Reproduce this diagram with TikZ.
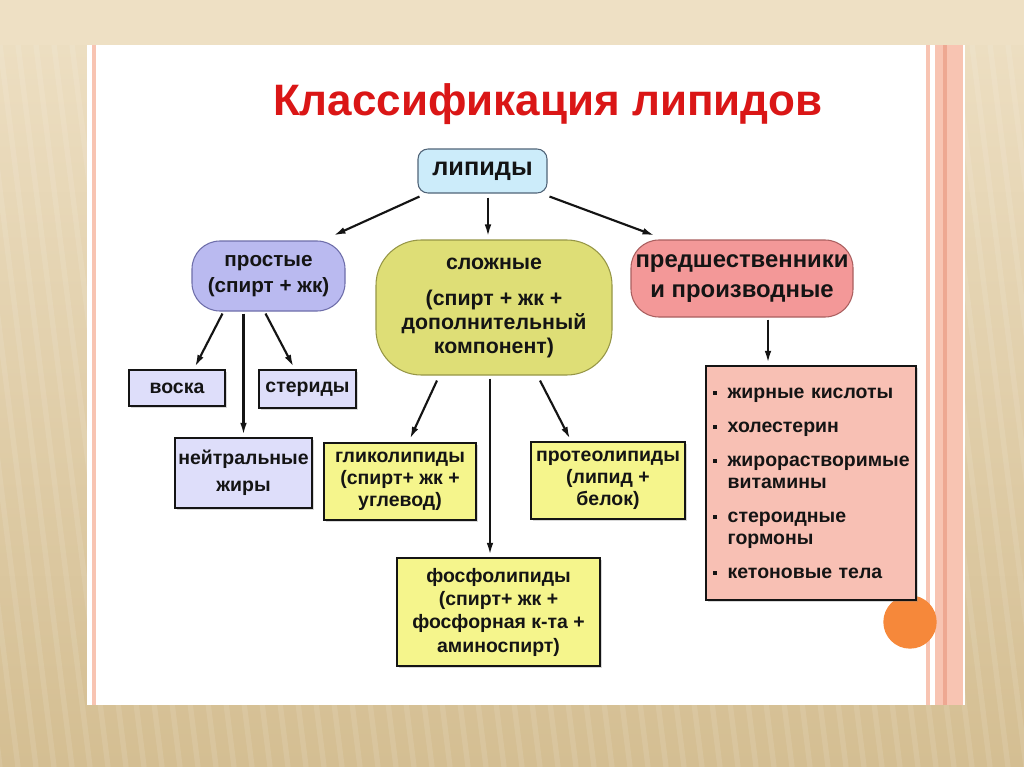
\documentclass[tikz,border=0pt]{standalone}
\usepackage{fontspec}
\setmainfont{Liberation Sans}
\usetikzlibrary{arrows.meta,shadows}
\definecolor{fond}{RGB}{238,224,196}
\definecolor{fondbas}{RGB}{212,190,146}
\definecolor{rose}{RGB}{248,196,178}
\definecolor{rosefonce}{RGB}{238,168,146}
\definecolor{titre}{RGB}{218,22,22}
\definecolor{cyan}{RGB}{204,236,250}
\definecolor{cyanbord}{RGB}{80,100,120}
\definecolor{mauve}{RGB}{186,186,240}
\definecolor{mauvebord}{RGB}{110,110,170}
\definecolor{mauveclair}{RGB}{222,222,250}
\definecolor{olive}{RGB}{222,222,118}
\definecolor{olivebord}{RGB}{150,150,70}
\definecolor{jaune}{RGB}{245,245,140}
\definecolor{saumon}{RGB}{243,152,152}
\definecolor{saumonbord}{RGB}{170,95,95}
\definecolor{saumonclair}{RGB}{248,192,180}
\definecolor{orange}{RGB}{246,136,58}
\definecolor{encre}{RGB}{20,20,20}
\newcommand{\puce}{\makebox[11pt][l]{\raisebox{0.35ex}{\rule{3pt}{3pt}}}}
\begin{document}
\begin{tikzpicture}[x=0.75pt,y=-0.75pt]
% Styles
\tikzstyle{fleche}=[-{Latex[length=9pt,width=5pt]},line width=1.6pt,draw=encre]
\tikzstyle{bulle}=[draw,line width=0.8pt,align=center,inner sep=0pt,text=encre,font=\bfseries\fontsize{16.5}{19.5}\selectfont]
\tikzstyle{boite}=[draw=encre,line width=1.8pt,align=center,inner sep=0pt,text=encre,drop shadow={opacity=0.3,shadow xshift=1.5pt,shadow yshift=-1.5pt},font=\bfseries\fontsize{14.6}{16.5}\selectfont]
% Fond
\useasboundingbox (0,0) rectangle (1024,767);
\shade[top color=fond,bottom color=fondbas] (0,0) rectangle (1024,767);
\fill[fond] (0,0) rectangle (1024,45);
\begin{scope}
\clip (0,45) rectangle (1024,767);
\foreach \i in {-10,...,60}
  \draw[white,opacity=0.1,line width=4pt] (\i*18,45) -- (\i*18+90,767);
\end{scope}
% Panneau
\fill[white] (87,45) rectangle (965,705);
\fill[rose] (92,45) rectangle (96,705);
\fill[rose] (926,45) rectangle (930,705);
\fill[rose] (935,45) rectangle (963,705);
\fill[rosefonce] (943,45) rectangle (947,705);
% Titre
\node[text=titre,font=\bfseries\fontsize{33}{38}\selectfont] (T) at (548,104) {Классификация липидов};
% Noeuds
\node[bulle,fill=cyan,draw=cyanbord,rounded corners=7.5pt,minimum width=96.75pt,minimum height=33pt,font=\bfseries\fontsize{19}{22}\selectfont] (L) at (482.5,171) {липиды};
\node[bulle,fill=mauve,draw=mauvebord,rounded corners=21pt,minimum width=114.75pt,minimum height=52.5pt,font=\bfseries\fontsize{15.5}{19.5}\selectfont] (La) at (268.5,276) {простые\\(спирт + жк)};
\node[bulle,fill=olive,draw=olivebord,rounded corners=34pt,minimum width=177pt,minimum height=101.25pt,font=\bfseries\fontsize{16}{18}\selectfont] (Lb) at (494,307.5) {сложные\\[9pt](спирт + жк +\\дополнительный\\компонент)};
\node[bulle,fill=saumon,draw=saumonbord,rounded corners=21pt,minimum width=166.5pt,minimum height=57.75pt,font=\bfseries\fontsize{17.9}{22}\selectfont] (Lc) at (742,278.5) {предшественники\\и производные};
\node[boite,fill=mauveclair,minimum width=72pt,minimum height=27pt] (Laa) at (177,388) {воска};
\node[boite,fill=mauveclair,minimum width=102.75pt,minimum height=52.5pt,font=\bfseries\fontsize{14.6}{20}\selectfont] (Lab) at (243.5,473) {нейтральные\\жиры};
\node[boite,fill=mauveclair,minimum width=72.75pt,minimum height=28.5pt] (Lac) at (307.5,389) {стериды};
\node[boite,fill=jaune,minimum width=114pt,minimum height=57.75pt] (Lba) at (400,481.5) {гликолипиды\\(спирт+ жк +\\углевод)};
\node[boite,fill=jaune,minimum width=152.25pt,minimum height=81pt,font=\bfseries\fontsize{14.6}{17.5}\selectfont] (Lbb) at (498.5,612) {фосфолипиды\\(спирт+ жк +\\фосфорная к-та +\\аминоспирт)};
\node[boite,fill=jaune,minimum width=115.5pt,minimum height=57.75pt] (Lbc) at (608,480.5) {протеолипиды\\(липид +\\белок)};
\fill[orange] (910,622) circle (20pt);
\node[boite,fill=saumonclair,minimum width=157.5pt,minimum height=175.5pt,align=left,text width=147pt] (Lca) at (811,483) {\puce жирные кислоты\\[9pt]\puce холестерин\\[9pt]\puce жирорастворимые\\\hspace*{11pt}витамины\\[9pt]\puce стероидные\\\hspace*{11pt}гормоны\\[9pt]\puce кетоновые тела};
% Arcs
\draw[fleche] ([shift={(2,3)}]L.south west) -- ([shift={(-12,-5)}]La.north east);
\draw[fleche] ([shift={(5.5,4)}]L.south) -- ([shift={(-6,-3)}]Lb.north);
\draw[fleche] ([shift={(2,3)}]L.south east) -- ([shift={(24,-4)}]Lc.north west);
\draw[fleche] ([shift={(-46,2)}]La.south) -- ([shift={(18,-2)}]Laa.north);
\draw[fleche] ([shift={(-25,2)}]La.south) -- ([shift={(0,-2)}]Lab.north);
\draw[fleche] ([shift={(-3,2)}]La.south) -- ([shift={(-14,-2)}]Lac.north);
\draw[fleche] ([shift={(-57,5)}]Lb.south) -- ([shift={(10,-3)}]Lba.north);
\draw[fleche] ([shift={(-4,3)}]Lb.south) -- ([shift={(-8.5,-2)}]Lbb.north);
\draw[fleche] ([shift={(46,5)}]Lb.south) -- ([shift={(-38,-2)}]Lbc.north);
\draw[fleche] ([shift={(26,2)}]Lc.south) -- ([shift={(-43,-2)}]Lca.north);
\end{tikzpicture}
\end{document}
